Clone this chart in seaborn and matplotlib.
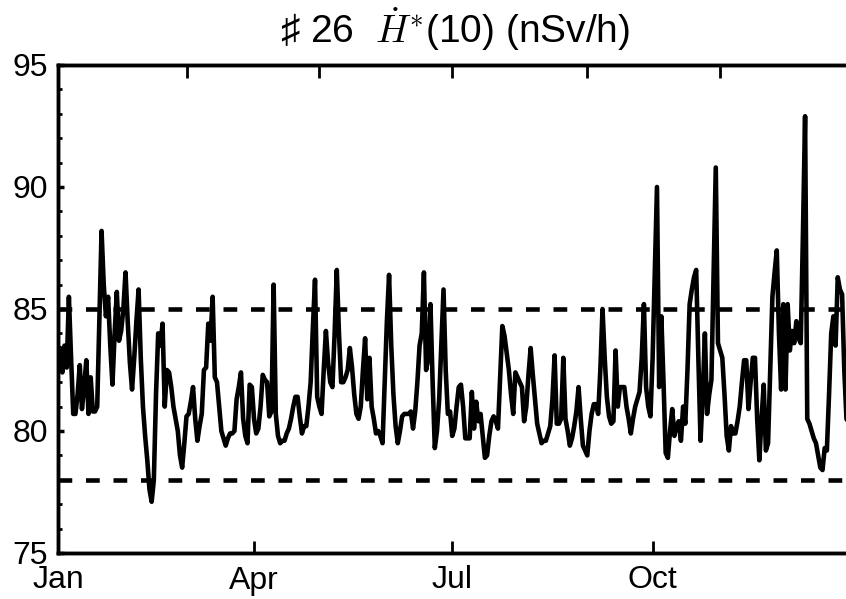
import pandas as pd
import matplotlib
matplotlib.use("Agg")
import matplotlib.pyplot as plt
import matplotlib.dates as mdates
from matplotlib.ticker import MultipleLocator, FixedLocator
import seaborn as sns

# daily H*(10) readings, nSv/h, one list per quarter
q1_values = [82.5, 83.4, 82.4, 83.5, 82.6, 85.5, 83.0, 80.7, 80.7, 81.5,
             82.7, 80.9, 81.8, 82.9, 80.7, 82.2, 80.8, 80.8, 81.0, 84.6,
             88.2, 86.0, 84.7, 85.5, 83.5, 81.9, 84.0, 85.7, 83.7, 84.1,
             85.0, 86.5, 84.5, 82.8, 81.7, 83.0, 84.5, 85.8, 83.0, 81.0,
             79.8, 78.8, 77.6, 77.1, 78.0, 81.5, 84.0, 83.5, 84.4, 81.0,
             82.5, 82.4, 81.8, 81.0, 80.5, 80.0, 79.0, 78.5, 79.5, 80.6,
             80.7, 81.2, 81.8, 80.5, 79.6, 80.2, 80.7, 82.5, 82.6, 84.4,
             83.7, 85.5, 82.2, 82.0, 81.0, 80.0, 79.7, 79.4, 79.7, 79.9,
             79.9, 80.0, 81.3, 81.8, 82.4, 80.5, 79.8, 79.5, 81.9, 81.8]
q2_values = [80.5, 79.9, 80.1, 81.0, 82.3, 82.1, 82.0, 80.6, 80.8, 86.0,
             80.7, 79.8, 79.5, 79.6, 79.6, 79.9, 80.1, 80.5, 81.0, 81.4,
             81.4, 80.6, 79.9, 80.2, 80.2, 81.0, 82.0, 84.2, 86.2, 81.4,
             81.0, 80.7, 82.5, 84.1, 82.8, 82.0, 81.8, 84.0, 86.6, 84.0,
             82.0, 82.0, 82.2, 82.5, 83.4, 82.6, 81.5, 80.7, 80.5, 81.0,
             82.5, 83.8, 81.3, 83.0, 81.0, 80.5, 79.9, 80.0, 79.8, 79.5,
             82.0, 84.5, 86.4, 83.5, 81.5, 80.2, 79.5, 80.0, 80.6, 80.7,
             80.7, 80.7, 80.8, 80.1, 80.8, 82.0, 83.5, 84.0, 86.5, 82.5,
             83.0, 85.2, 82.0, 79.3, 80.0, 81.3, 83.5, 85.8, 82.5, 80.7,
             80.8]
q3_values = [79.8, 80.1, 81.0, 81.8, 81.9, 81.0, 79.7, 79.7, 79.7,
             81.6, 80.1, 81.2, 80.4, 80.7, 79.8, 78.9, 79.0, 79.8, 80.4,
             80.6, 80.4, 80.1, 82.2, 84.3, 83.9, 83.2, 82.5, 81.5, 80.7,
             82.4, 82.2, 82.0, 81.8, 80.4, 81.0, 82.3, 83.4, 82.3, 81.3,
             80.3, 79.9, 79.5, 79.6, 79.6, 79.9, 80.2, 81.3, 83.1, 80.3,
             80.3, 80.5, 83.0, 80.5, 80.0, 79.4, 79.7, 80.2, 80.8, 81.8,
             80.5, 79.4, 79.2, 79.0, 80.0, 80.7, 81.1, 81.1, 80.7, 82.5,
             85.0, 83.0, 81.4, 80.6, 80.3, 80.4, 83.3, 81.0, 81.8, 81.8,
             81.8, 81.0, 80.5, 79.9, 80.5, 81.0, 81.3, 81.6, 83.0, 85.2,
             81.8, 81.0, 80.6]
q4_values = [83.0, 86.5, 90.0, 81.8, 84.7, 82.0, 79.1,
             78.9, 80.0, 80.9, 79.8, 80.2, 80.4, 79.6, 81.0, 80.3, 82.5,
             85.2, 85.8, 86.3, 86.6, 83.0, 79.6, 81.5, 84.0, 80.7, 81.5,
             82.1, 86.5, 90.8, 83.6, 83.3, 83.0, 81.5, 79.8, 79.2, 80.2,
             79.9, 79.9, 80.4, 81.0, 82.0, 82.9, 82.9, 80.9, 82.0, 83.0,
             83.0, 80.5, 78.8, 80.5, 81.9, 79.2, 79.5, 82.5, 85.5, 86.5,
             87.4, 84.0, 81.7, 85.2, 81.7, 85.2, 83.3, 84.1, 83.6, 84.5,
             83.8, 83.6, 88.0, 92.9, 80.5, 80.3, 80.0, 79.7, 79.5, 79.0,
             78.5, 78.4, 79.3, 79.2, 81.5, 84.0, 84.7, 83.5, 86.3, 85.8,
             85.6, 82.5, 80.5, 80.3, 80.6]

limits = [78, 85]
year_start = "2019-01-01"
year_end = "2020-01-01"
label_months = ["2019-01-01", "2019-04-01", "2019-07-01", "2019-10-01"]
top_months = ["2019-03-01", "2019-05-01", "2019-07-01", "2019-09-01", "2019-11-01"]

values = q1_values + q2_values + q3_values + q4_values
df = pd.DataFrame({
    "date": pd.date_range(year_start, periods=len(values), freq="D"),
    "dose": values,
})

sns.set_style("ticks")
plt.rcParams["font.family"] = ["Liberation Sans", "DejaVu Sans"]
plt.rcParams["mathtext.fontset"] = "cm"
plt.rcParams["text.color"] = "black"
plt.rcParams["xtick.color"] = "black"
plt.rcParams["ytick.color"] = "black"

fig = plt.figure(figsize=(8.46, 5.99), dpi=100)
ax = fig.add_axes([58 / 846, 46 / 599, 795 / 846, 488 / 599])

sns.lineplot(data=df, x="date", y="dose", color="black", linewidth=3.3, ax=ax)
for lim in limits:
    ax.axhline(lim, color="black", linewidth=3.3, linestyle=(0, (3, 3)))

ax.set_xlim(pd.Timestamp(year_start), pd.Timestamp(year_end))
ax.set_ylim(75, 95)
ax.set_xlabel("")
ax.set_ylabel("")

ax.xaxis.set_major_locator(FixedLocator(mdates.date2num(pd.to_datetime(label_months))))
ax.xaxis.set_major_formatter(mdates.DateFormatter("%b"))
ax.yaxis.set_major_locator(MultipleLocator(5))
ax.yaxis.set_minor_locator(MultipleLocator(1))
ax.tick_params(axis="x", direction="in", length=9, width=2, labelsize=23, pad=9)
ax.tick_params(axis="y", which="major", direction="in", length=4, width=2.5, labelsize=23, pad=7)
ax.tick_params(axis="y", which="minor", direction="in", length=3, width=2)

# top axis: bimonthly ticks, no labels
top = ax.twiny()
top.set_xlim(ax.get_xlim())
top.xaxis.set_major_locator(FixedLocator(mdates.date2num(pd.to_datetime(top_months))))
top.tick_params(axis="x", direction="in", length=9, width=2, labeltop=False)

for a in (ax, top):
    for side in ["left", "bottom", "top"]:
        a.spines[side].set_linewidth(2.5)
        a.spines[side].set_color("black")
    a.spines["right"].set_visible(False)

ax.set_title("\u266f 26  $\\dot{H}^{*}$(10) (nSv/h)", fontsize=28, pad=16)

fig.savefig("out.png", dpi=100)
